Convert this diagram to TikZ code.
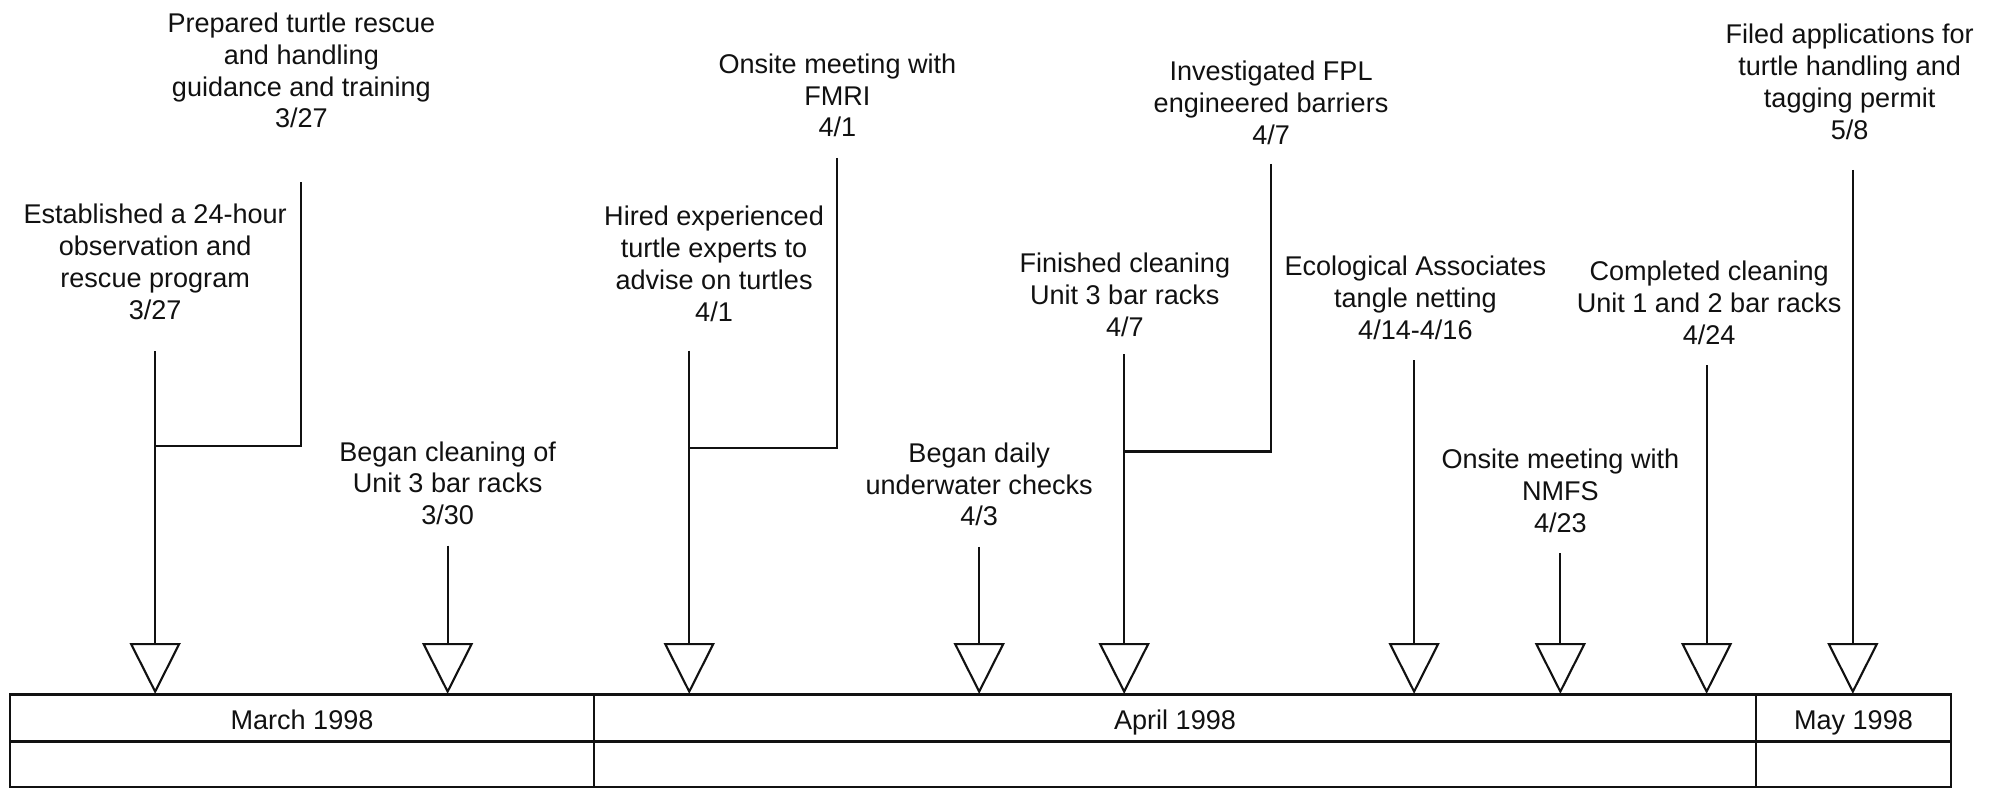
\documentclass[tikz,border=0pt]{standalone}
\usepackage{fontspec}
\setmainfont{Liberation Sans}
\usetikzlibrary{shapes.geometric}
\definecolor{timelineInk}{HTML}{111111}

\begin{document}
\begin{tikzpicture}[
    x=0.12717mm,y=-0.12717mm,
    every node/.style={font=\fontsize{7.7}{9.05}\selectfont,align=center,text=timelineInk},
    event/.style={inner sep=1pt},
    month/.style={inner sep=1pt,text height=1.6ex,text depth=0.3ex},
    marker/.style={draw=timelineInk,fill=white,isosceles triangle,isosceles triangle stretches,shape border rotate=270,minimum width=4.8mm,minimum height=4.75mm,inner sep=0pt,anchor=apex,line width=0.6pt},
    stem/.style={draw=timelineInk,line width=0.6pt,shorten <=1.65mm},
    grid/.style={draw=timelineInk,line width=0.7pt}
]
\useasboundingbox (0,0) rectangle (1568,624);

\node[event] (est) at (122,206) {Established a 24-hour\\observation and\\rescue program\\3/27};
\node[event] (prep) at (237,55.5) {Prepared turtle rescue\\and handling\\guidance and training\\3/27};
\node[event] (clean) at (352,380) {Began cleaning of\\Unit 3 bar racks\\3/30};
\node[event] (hired) at (561.5,207.5) {Hired experienced\\turtle experts to\\advise on turtles\\4/1};
\node[event] (fmri) at (658.5,75) {Onsite meeting with\\FMRI\\4/1};
\node[event] (daily) at (770,381) {Began daily\\underwater checks\\4/3};
\node[event] (finish) at (884.5,232) {Finished cleaning\\Unit 3 bar racks\\4/7};
\node[event] (fpl) at (999.5,81) {Investigated FPL\\engineered barriers\\4/7};
\node[event] (eco) at (1113,234) {Ecological Associates\\tangle netting\\4/14-4/16};
\node[event] (nmfs) at (1227,386) {Onsite meeting with\\NMFS\\4/23};
\node[event] (done) at (1344,238) {Completed cleaning\\Unit 1 and 2 bar racks\\4/24};
\node[event] (filed) at (1454.5,64.5) {Filed applications for\\turtle handling and\\tagging permit\\5/8};

% month table
\draw[grid] (8,546) rectangle (1534,619);
\draw[grid] (8,583) -- (1534,583);
\draw[grid] (467,546) -- (467,619);
\draw[grid] (1381,546) -- (1381,619);
\node[month] (march) at (237.5,564.5) {March 1998};
\node[month] (april) at (924,564.5) {April 1998};
\node[month] (may) at (1457.5,564.5) {May 1998};

\node[marker] (estmark) at (122,546) {};
\node[marker] (cleanmark) at (352,546) {};
\node[marker] (hiredmark) at (542,546) {};
\node[marker] (dailymark) at (770,546) {};
\node[marker] (finishmark) at (884,546) {};
\node[marker] (ecomark) at (1112,546) {};
\node[marker] (nmfsmark) at (1227,546) {};
\node[marker] (donemark) at (1342,546) {};
\node[marker] (filedmark) at (1457,546) {};

\coordinate (estjoin) at (122,351);
\coordinate (hiredjoin) at (542,352);
\coordinate (finishjoin) at (884,355);

\draw[stem,shorten <=2.75mm] (est.south -| estmark.north) -- (estmark.north);
\draw[stem,shorten <=5mm] (prep.south) |- (estjoin);
\draw[stem] (clean.south -| cleanmark.north) -- (cleanmark.north);
\draw[stem,shorten <=2.5mm] (hired.south -| hiredmark.north) -- (hiredmark.north);
\draw[stem] (fmri.south) |- (hiredjoin);
\draw[stem] (daily.south -| dailymark.north) -- (dailymark.north);
\draw[stem,shorten <=1.35mm] (finish.south -| finishmark.north) -- (finishmark.north);
\draw[stem,shorten <=1.5mm] (fpl.south) |- (finishjoin);
\draw[stem] (eco.south -| ecomark.north) -- (ecomark.north);
\draw[stem] (nmfs.south -| nmfsmark.north) -- (nmfsmark.north);
\draw[stem] (done.south -| donemark.north) -- (donemark.north);
\draw[stem,shorten <=2.6mm] (filed.south -| filedmark.north) -- (filedmark.north);
\end{tikzpicture}
\end{document}
